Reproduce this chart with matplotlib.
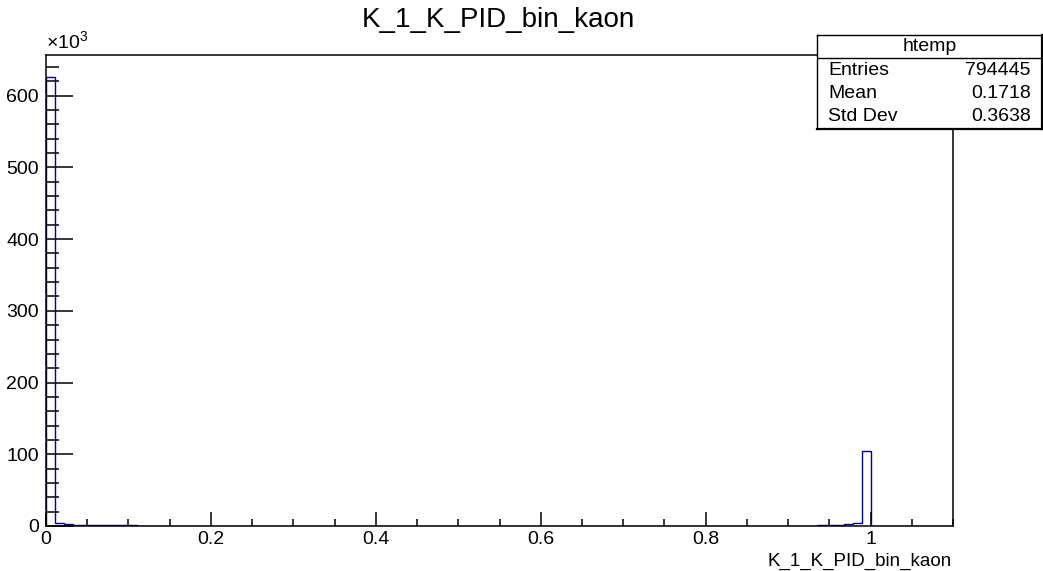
import numpy as np
import matplotlib
matplotlib.use("Agg")
import matplotlib.pyplot as plt
from matplotlib.ticker import MultipleLocator, FuncFormatter

plt.rcParams["font.family"] = ["Liberation Sans", "DejaVu Sans"]
plt.rcParams["mathtext.fontset"] = "custom"
plt.rcParams["mathtext.rm"] = "Liberation Sans"

# histogram "htemp" of K_1_K_PID_bin_kaon, 100 bins on [0, 1.1]
x_min, x_max, n_bins = 0.0, 1.1, 100
counts = [
    625400, 4600, 2800, 1800, 1400, 1100, 950, 850, 780, 720,
    680, 650, 620, 600, 580, 560, 550, 540, 530, 520,
    515, 510, 505, 500, 495, 490, 488, 485, 482, 480,
    478, 476, 474, 472, 470, 468, 466, 464, 462, 460,
    458, 457, 456, 455, 454, 453, 452, 451, 450, 450,
    450, 451, 452, 453, 454, 455, 456, 458, 460, 462,
    464, 466, 468, 470, 472, 475, 478, 481, 484, 488,
    492, 496, 500, 505, 510, 516, 522, 530, 540, 550,
    565, 580, 600, 630, 680, 1300, 1300, 1500, 2300, 4000,
    105000, 0, 0, 0, 0, 0, 0, 0, 0, 0,
]
title = "K_1_K_PID_bin_kaon"
x_label = "K_1_K_PID_bin_kaon"
stats_name = "htemp"
stats_rows = [("Entries", "794445"), ("Mean", "0.1718"), ("Std Dev", "0.3638")]

W, H = 1043, 571
fig = plt.figure(figsize=(W / 100, H / 100), dpi=100)
ax = fig.add_axes([46 / W, 1 - 526 / H, (953 - 46) / W, (526 - 55) / H])

edges = np.linspace(x_min, x_max, n_bins + 1)
ax.stairs(counts, edges, color="#000099", linewidth=1.0, baseline=0)

ax.set_xlim(x_min, x_max)
ax.set_ylim(0, max(counts) * 1.05)

for s in ax.spines.values():
    s.set_linewidth(1.1)

ax.xaxis.set_major_locator(MultipleLocator(0.2))
ax.xaxis.set_minor_locator(MultipleLocator(0.05))
ax.yaxis.set_major_locator(MultipleLocator(100000))
ax.yaxis.set_minor_locator(MultipleLocator(20000))
ax.xaxis.set_major_formatter(FuncFormatter(lambda v, p: f"{v:g}"))
ax.yaxis.set_major_formatter(FuncFormatter(lambda v, p: f"{v / 1000:g}"))

ax.tick_params(axis="x", which="major", direction="in", length=10, width=1.1,
               labelsize=14, pad=3.5, top=False)
ax.tick_params(axis="x", which="minor", direction="in", length=5, width=1.1, top=False)
ax.tick_params(axis="y", which="major", direction="in", length=19.5, width=1.1,
               labelsize=14, pad=5, right=False)
ax.tick_params(axis="y", which="minor", direction="in", length=9.7, width=1.1, right=False)

ax.text(0, 1.003, "×10$^{3}$", transform=ax.transAxes, fontsize=14,
        ha="left", va="bottom")

fig.text(498 / W, 1 - 27 / H, title, fontsize=20, ha="center", va="baseline")
fig.text(952 / W, 1 - 566 / H, x_label, fontsize=13.5, ha="right", va="baseline")

# stats box
bx0, by0, bx1, by1 = 817, 35, 1042, 129
sax = fig.add_axes([bx0 / W, 1 - by1 / H, (bx1 - bx0) / W, (by1 - by0) / H])
sax.set_xlim(0, 1)
sax.set_ylim(0, 1)
sax.set_xticks([])
sax.set_yticks([])
sax.set_facecolor("white")
for s in sax.spines.values():
    s.set_linewidth(1.0)
sax.spines["bottom"].set_linewidth(1.6)
sax.spines["right"].set_linewidth(1.6)
hdr = (by1 - 57.7) / (by1 - by0)
sax.axhline(hdr, color="black", linewidth=1.0)
sax.text(0.5, (by1 - 46.5) / (by1 - by0), stats_name, fontsize=14,
         ha="center", va="center")
for i, (k, v) in enumerate(stats_rows):
    yb = (by1 - (75 + 23 * i)) / (by1 - by0)
    sax.text((828 - bx0) / (bx1 - bx0), yb, k, fontsize=14, ha="left", va="baseline")
    sax.text((1031 - bx0) / (bx1 - bx0), yb, v, fontsize=14, ha="right", va="baseline")

fig.savefig("out.png", dpi=100)
